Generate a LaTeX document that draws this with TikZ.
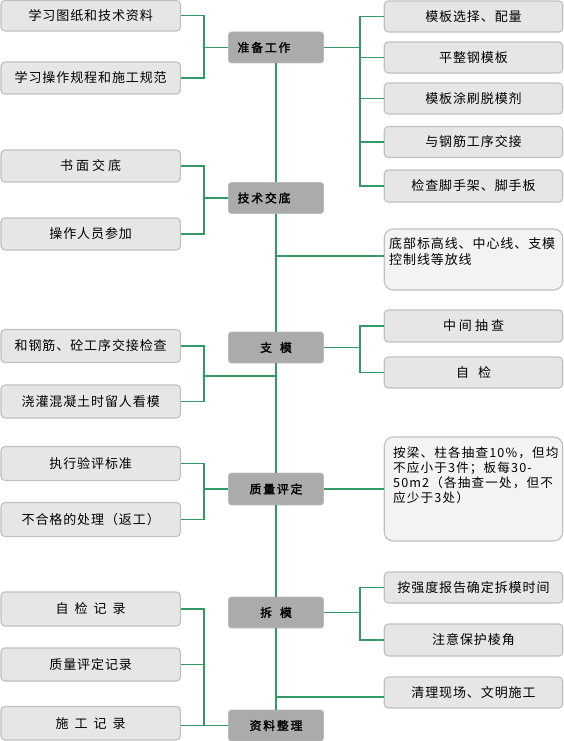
\documentclass[tikz,border=0pt]{standalone}
\usepackage{fontspec}
\newfontfamily\cjk[LetterSpace=7]{Noto Sans CJK SC}
\newfontfamily\cjknote[LetterSpace=9]{Noto Sans CJK SC}
\newfontfamily\cjkb[LetterSpace=16,FakeBold=2]{Noto Sans CJK SC}
\definecolor{linkgreen}{RGB}{51,153,102}
\definecolor{boxfill}{RGB}{230,230,230}
\definecolor{boxline}{RGB}{192,192,192}
\definecolor{hubfill}{RGB}{171,171,171}
\definecolor{hubline}{RGB}{186,186,186}
\definecolor{notefill}{RGB}{243,243,243}
\newcommand\gapsp[1]{\hspace{#1pt}}
\newcommand\tailsp[1]{\hspace{#1pt}\mbox{}}
\begin{document}
\begin{tikzpicture}[x=1pt,y=-1pt,
  link/.style={draw=linkgreen, line width=1.2pt},
  leaf/.style={draw=boxline, fill=boxfill, line width=1.1pt, rounded corners=4pt,
    inner sep=0pt, font=\cjk\fontsize{13}{15}\selectfont, text=black},
  leftbox/.style={leaf, minimum width=179.5pt},
  rightbox/.style={leaf, minimum width=178.5pt},
  hub/.style={fill=hubfill, draw=hubline, line width=0.8pt, rounded corners=3pt,
    minimum width=95pt, minimum height=31pt, inner sep=0pt,
    font=\cjkb\fontsize{11.8}{13}\selectfont},
  note/.style={rightbox, fill=notefill, rounded corners=9pt},
  notetext/.style={font=\cjknote\fontsize{12.6}{15}\selectfont, align=left, inner sep=0pt, anchor=north west}
]
\useasboundingbox (0,0) rectangle (564,741);

% centre column
\node[hub] (C1) at (276,47.5) {准备工作\tailsp{24}};
\node[hub] (C2) at (276,198) {技术交底\tailsp{24}};
\node[hub] (C3) at (276,347.5) {支\gapsp{8}模};
\node[hub, minimum height=32pt] (C4) at (276,489) {质量评定};
\node[hub] (C5) at (276,612.5) {拆\gapsp{8}模};
\node[hub] (C6) at (276,725.5) {资料整理};

% left column
\node[leftbox, minimum height=30.4pt] (L1) at (90.7,15.8) {学习图纸和技术资料};
\node[leftbox, minimum height=32pt] (L2) at (90.7,78) {学习操作规程和施工规范};
\node[leftbox, minimum height=32pt] (L3) at (90.7,166) {书\gapsp{3}面\gapsp{3}交\gapsp{3}底};
\node[leftbox, minimum height=32pt] (L4) at (90.7,234) {操作人员参加};
\node[leftbox, minimum height=33pt] (L5) at (90.7,346) {和钢筋、砼工序交接检查};
\node[leftbox, minimum height=33pt] (L6) at (90.7,401.5) {浇灌混凝土时留人看模};
\node[leftbox, minimum height=34pt] (L7) at (90.7,463.5) {执行验评标准};
\node[leftbox, minimum height=34pt] (L8) at (90.7,519.5) {不合格的处理（返工）};
\node[leftbox, minimum height=34pt] (L9) at (90.7,609) {自\gapsp{6}检\gapsp{6}记\gapsp{6}录};
\node[leftbox, minimum height=33pt] (L10) at (90.7,664.5) {质量评定记录};
\node[leftbox, minimum height=33.5pt] (L11) at (90.7,723.2) {施\gapsp{6}工\gapsp{6}记\gapsp{6}录};

% right column
\node[rightbox, minimum height=31pt] (R1) at (473.5,16.5) {模板选择、配量};
\node[rightbox, minimum height=31pt] (R2) at (473.5,57.5) {平整钢模板};
\node[rightbox, minimum height=31pt] (R3) at (473.5,98.5) {模板涂刷脱模剂};
\node[rightbox, minimum height=31pt] (R4) at (473.5,142) {与钢筋工序交接};
\node[rightbox, minimum height=32pt] (R5) at (473.5,186) {检查脚手架、脚手板};
\node[note, minimum height=61pt] (R6) at (473.5,259.5) {};
\node[notetext, font=\cjk\fontsize{13}{16}\selectfont] (R6t) at (389,237.5)
  {底部标高线、中心线、支模\\控制线等放线};
\node[rightbox, minimum height=32pt] (R7) at (473.5,326) {中\gapsp{3}间\gapsp{3}抽\gapsp{3}查};
\node[rightbox, minimum height=31pt] (R8) at (473.5,372.5) {自\gapsp{9}检};
\node[note, minimum height=104pt] (R9) at (473.5,489) {};
\node[notetext] (R9t) at (393,447)
  {按梁、柱各抽查10\%，但均\\不应小于3件；板每30-\\50m2（各抽查一处，但不\\应少于3处）};
\node[rightbox, minimum height=31pt] (R10) at (473.5,587.5) {按强度报告确定拆模时间};
\node[rightbox, minimum height=32pt] (R11) at (473.5,640) {注意保护棱角};
\node[rightbox, minimum height=31pt] (R12) at (473.5,692.5) {清理现场、文明施工};

% junctions
\coordinate (lj1) at (204,47.5);
\coordinate (lj2) at (204,198);
\coordinate (lj3) at (204,376);
\coordinate (lj4) at (204,489);
\coordinate (lj5) at (204,725.5);
\coordinate (rj1) at (360,47.5);
\coordinate (rj3) at (360,347.5);
\coordinate (rj5) at (360,612.5);
\coordinate (cj1) at (276,256);
\coordinate (cj2) at (276,697);

% centre spine
\draw[link] (C1.south) -- (C2.north);
\draw[link] (C2.south) -- (C3.north);
\draw[link] (C3.south) -- (C4.north);
\draw[link] (C4.south) -- (C5.north);
\draw[link] (C5.south) -- (C6.north);

% left connectors
\draw[link] (L1.east) -| (lj1);
\draw[link] (L2.east) -| (lj1);
\draw[link] (lj1) -- (C1.west);
\draw[link] (L3.east) -| (lj2);
\draw[link] (L4.east) -| (lj2);
\draw[link] (lj2) -- (C2.west);
\draw[link] (L5.east) -| (lj3);
\draw[link] (L6.east) -| (lj3);
\draw[link] (lj3) -- (lj3 -| C3.south);
\draw[link] (L7.east) -| (lj4);
\draw[link] (L8.east) -| (lj4);
\draw[link] (lj4) -- (C4.west);
\draw[link] (L9.east) -| (lj5);
\draw[link] (L10.east) -| (lj5);
\draw[link] (L11.east |- lj5) -- (C6.west);

% right connectors
\draw[link] (C1.east) -- (rj1);
\foreach \r in {R1,R2,R3,R4,R5} { \draw[link] (rj1) |- (\r.west); }
\draw[link] (cj1) -- (cj1 -| R6.west);
\draw[link] (C3.east) -- (rj3);
\draw[link] (rj3) |- (R7.west);
\draw[link] (rj3) |- (R8.west);
\draw[link] (C4.east) -- (R9.west);
\draw[link] (C5.east) -- (rj5);
\draw[link] (rj5) |- (R10.west);
\draw[link] (rj5) |- (R11.west);
\draw[link] (cj2) -- (cj2 -| R12.west);
\end{tikzpicture}
\end{document}
